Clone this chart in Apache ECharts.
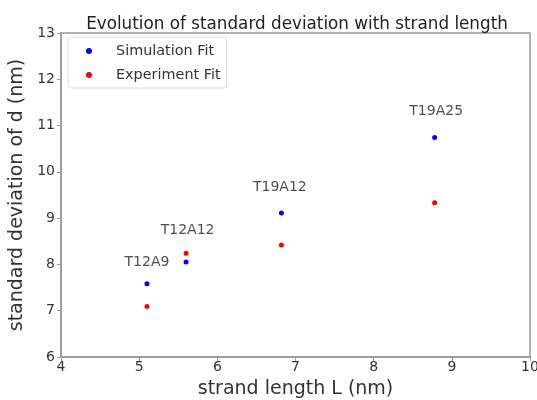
<!DOCTYPE html>
<html><head><meta charset="utf-8">
<script src="https://cdn.jsdelivr.net/npm/echarts@6/dist/echarts.min.js"></script>
<style>html,body{margin:0;padding:0;background:#fff}#c{width:537px;height:400px}</style>
</head><body><div id="c"></div>
<script>
var strandLength = [5.1, 5.6, 6.82, 8.78];
var simulationFit = [7.58, 8.05, 9.11, 10.74];
var experimentFit = [7.09, 8.24, 8.42, 9.33];
var labelNames = ['T12A9', 'T12A12', 'T19A12', 'T19A25'];
var labelX = [5.1, 5.62, 6.8, 8.8];
var labelY = [8.05, 8.73, 9.66, 11.31];
var xTicks = [4, 5, 6, 7, 8, 9, 10];
var yTicks = [6, 7, 8, 9, 10, 11, 12, 13];

function pairs(xs, ys){ return xs.map(function(x,i){ return [x, ys[i]]; }); }
var font = 'DejaVu Sans';
var chart = echarts.init(document.getElementById('c'));
chart.setOption({
  animation: false,
  textStyle: {fontFamily: font},
  title: {text: 'Evolution of standard deviation with strand length', left: 292, textAlign: 'center', top: 11,
    textStyle: {fontFamily: font, fontSize: 16.8, fontWeight: 'normal', color: '#222'}},
  grid: {left: 61, right: 7, top: 33, bottom: 43, show: true, borderColor: '#999', borderWidth: 1.5,
    containLabel: false, outerBoundsMode: 'none'},
  legend: {left: 68, top: 37, orient: 'vertical', itemGap: 10, itemWidth: 6, itemHeight: 6,
    padding: [7, 6, 6, 18], borderColor: '#ddd', borderWidth: 1, borderRadius: 3,
    textStyle: {fontFamily: font, fontSize: 14.4, color: '#333', padding: [0, 0, 0, 19]},
    data: [{name: 'Simulation Fit', icon: 'circle'}, {name: 'Experiment Fit', icon: 'circle'}]},
  xAxis: {type: 'value', min: xTicks[0], max: xTicks[xTicks.length-1], interval: 1,
    name: 'strand length L (nm)', nameLocation: 'middle', nameGap: 23,
    nameTextStyle: {fontFamily: font, fontSize: 19, color: '#333'},
    axisLine: {show: true, lineStyle: {color: '#999', width: 1.5}},
    axisTick: {show: true, length: 4, lineStyle: {color: '#999'}},
    axisLabel: {fontFamily: font, fontSize: 14, color: '#333', margin: 3},
    splitLine: {show: false}},
  yAxis: {type: 'value', min: yTicks[0], max: yTicks[yTicks.length-1], interval: 1,
    name: 'standard deviation of d (nm)', nameLocation: 'middle', nameGap: 27, nameRotate: 90,
    nameTextStyle: {fontFamily: font, fontSize: 19, color: '#333'},
    axisLine: {show: true, lineStyle: {color: '#999', width: 1.5}},
    axisTick: {show: true, length: 4, lineStyle: {color: '#999'}},
    axisLabel: {fontFamily: font, fontSize: 14, color: '#333', margin: 6},
    splitLine: {show: false}},
  series: [
    {name: 'Simulation Fit', type: 'scatter', symbolSize: 5, itemStyle: {color: '#0000ff', opacity: 1},
      data: pairs(strandLength, simulationFit)},
    {name: 'Experiment Fit', type: 'scatter', symbolSize: 5, itemStyle: {color: '#ff0000', opacity: 1},
      data: pairs(strandLength, experimentFit)},
    {name: 'labels', type: 'scatter', symbolSize: 0, silent: true,
      label: {show: true, position: 'inside', formatter: function(p){ return labelNames[p.dataIndex]; },
        fontFamily: font, fontSize: 14, color: '#222'},
      data: pairs(labelX, labelY)}
  ]
});
</script></body></html>
